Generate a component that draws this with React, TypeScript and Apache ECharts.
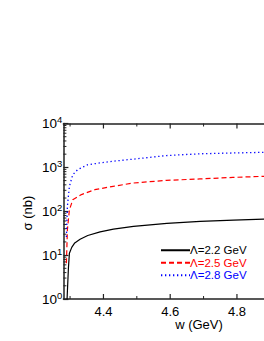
import React, { useEffect, useRef } from "react";
import * as echarts from "echarts";

const seriesNames = ["Λ=2.2 GeV", "Λ=2.5 GeV", "Λ=2.8 GeV"];
const seriesColors = ["#000000", "#ff0000", "#0000ff"];

const blackW = [4.291, 4.295, 4.298, 4.305, 4.314, 4.33, 4.353, 4.39, 4.43, 4.49, 4.59, 4.69, 4.79, 4.88, 5.0];
const blackS = [1, 5, 11, 15, 19, 23, 28, 34, 39, 45, 53, 59, 63, 66, 69];

const redW = [4.289, 4.292, 4.298, 4.308, 4.334, 4.374, 4.429, 4.489, 4.589, 4.689, 4.788, 4.878, 5.0];
const redS = [6.5, 38, 108, 182, 240, 310, 370, 440, 505, 545, 590, 625, 660];

const blueW = [4.289, 4.292, 4.298, 4.308, 4.323, 4.353, 4.389, 4.429, 4.489, 4.589, 4.689, 4.788, 4.878, 5.0];
const blueS = [26, 129, 370, 680, 890, 1150, 1260, 1380, 1540, 1860, 2040, 2130, 2200, 2280];

const xTickLabels = ["4.4", "4.6", "4.8"];
const xMajorTicks = [4.4, 4.6, 4.8, 5.0];
const xMinorTicks = [4.3, 4.5, 4.7, 4.9];
const xMin = 4.28;
const xMax = 5.0;
const yMin = 1;
const yMax = 10000;
const yMinorTicks = [1, 10, 100, 1000].flatMap((d) => [2, 3, 4, 5, 6, 7, 8, 9].map((m) => m * d));

const AXIS = "#222222";
const FONT = "Liberation Sans, Arial, sans-serif";

export default function App() {
  const ref = useRef<HTMLDivElement>(null);
  useEffect(() => {
    if (!ref.current) return;
    const chart = echarts.init(ref.current, undefined, { renderer: "svg" });
    const pairs = (w: number[], s: number[]) => w.map((x, i) => [x, s[i]]);
    const lineSeries = [pairs(blackW, blackS), pairs(redW, redS), pairs(blueW, blueS)].map((d, i) => ({
      type: "line",
      name: seriesNames[i],
      data: d,
      xAxisIndex: 0,
      yAxisIndex: 0,
      symbol: "none",
      showSymbol: false,
      clip: true,
      lineStyle: {
        color: seriesColors[i],
        width: i === 2 ? 1.3 : 1.2,
        type: i === 0 ? "solid" : i === 1 ? [5, 3] : [1.3, 2.7],
      },
      itemStyle: { color: seriesColors[i] },
    }));

    const xAxisCommon = {
      type: "value",
      min: xMin,
      max: xMax,
      interval: 0.04,
      axisLine: { show: true, lineStyle: { color: AXIS, width: 1.5 } },
      axisTick: { show: false },
      splitLine: { show: false },
    };

    const tickItem = (ticks: number[], len: number) => ticks.map((v) => [v, len]);

    chart.setOption({
      animation: false,
      grid: { left: 63.4, top: 123.5, width: 240.3, height: 175.5, containLabel: false },
      xAxis: [
        {
          ...xAxisCommon,
          position: "bottom",
          axisLabel: {
            show: true,
            color: "#000",
            fontSize: 13,
            fontFamily: FONT,
            margin: 6,
            formatter: (v: number) => {
              const s = (Math.round(v * 10) / 10).toFixed(1);
              return xTickLabels.indexOf(s) >= 0 && Math.abs(v - Number(s)) < 0.001 ? s : "";
            },
          },
        },
        { ...xAxisCommon, position: "top", axisLabel: { show: false } },
      ],
      yAxis: [
        {
          type: "log",
          logBase: 10,
          min: yMin,
          max: yMax,
          interval: 1,
          position: "left",
          axisLine: { show: true, lineStyle: { color: AXIS, width: 1.5 } },
          axisTick: { show: true, inside: true, length: 5, lineStyle: { color: AXIS, width: 1.2 } },
          splitLine: { show: false },
          axisLabel: {
            margin: 1,
            fontFamily: FONT,
            formatter: (v: number) => `{b|10}{s|${Math.round(Math.log10(v))}}`,
            rich: {
              b: { fontSize: 13.5, fontFamily: FONT, color: "#000" },
              s: { fontSize: 9.5, fontFamily: FONT, color: "#000", padding: [0, 0, 8, 0] },
            },
          },
        },
      ],
      legend: {
        orient: "vertical",
        left: 155,
        top: 239,
        itemWidth: 29,
        itemHeight: 8,
        itemGap: 0,
        itemStyle: { opacity: 0 },
        data: seriesNames.map((n, i) => ({
          name: n,
          textStyle: { color: seriesColors[i], fontSize: 11.5, fontFamily: FONT, lineHeight: 12.5, padding: [0, 0, 0, -5] },
        })),
        textStyle: { fontSize: 11.5, fontFamily: FONT },
      },
      graphic: [
        {
          type: "text",
          x: 27,
          y: 213,
          rotation: Math.PI / 2,
          style: { text: "σ (nb)", fontSize: 13, fontFamily: FONT, fill: "#000", align: "center", verticalAlign: "middle" },
        },
        {
          type: "text",
          x: 199,
          y: 324,
          style: { text: "w (GeV)", fontSize: 13, fontFamily: FONT, fill: "#000", align: "center", verticalAlign: "middle" },
        },
      ],
      series: [
        ...lineSeries,
        {
          type: "custom",
          name: "yMinor",
          xAxisIndex: 0,
          yAxisIndex: 0,
          clip: false,
          silent: true,
          data: yMinorTicks.map((v) => [xMin, v]),
          renderItem: (params: any, api: any) => {
            const p = api.coord([api.value(0), api.value(1)]);
            return {
              type: "line",
              shape: { x1: p[0], y1: p[1], x2: p[0] + 3, y2: p[1] },
              style: { stroke: AXIS, lineWidth: 1 },
            };
          },
        },
        {
          type: "custom",
          name: "xTicks",
          xAxisIndex: 0,
          yAxisIndex: 0,
          clip: false,
          silent: true,
          data: [...tickItem(xMajorTicks, 5), ...tickItem(xMinorTicks, 3)],
          renderItem: (params: any, api: any) => {
            const len = api.value(1);
            const pb = api.coord([api.value(0), yMin]);
            const pt = api.coord([api.value(0), yMax]);
            const lw = len > 4 ? 1.2 : 1;
            return {
              type: "group",
              children: [
                { type: "line", shape: { x1: pb[0], y1: pb[1], x2: pb[0], y2: pb[1] - len }, style: { stroke: AXIS, lineWidth: lw } },
                { type: "line", shape: { x1: pt[0], y1: pt[1], x2: pt[0], y2: pt[1] + len }, style: { stroke: AXIS, lineWidth: lw } },
              ],
            };
          },
        },
      ],
    });
    return () => chart.dispose();
  }, []);
  return (
    <div style={{ position: "fixed", left: 0, top: 0, width: 264, height: 341, overflow: "hidden", background: "#fff" }}>
      <div ref={ref} style={{ width: 330, height: 341 }} />
    </div>
  );
}
